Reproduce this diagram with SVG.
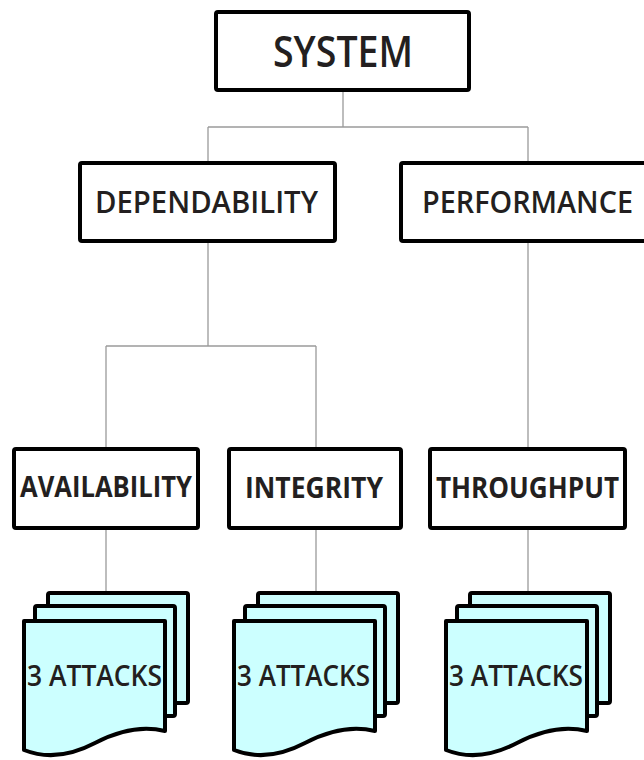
<svg xmlns="http://www.w3.org/2000/svg" width="644" height="760" viewBox="0 0 644 760">
  <style>
    .box { fill: #ffffff; stroke: #000000; stroke-width: 4; stroke-linejoin: round; }
    .sheet { fill: #ccffff; stroke: #000000; stroke-width: 4; stroke-linejoin: round; }
    .wire { fill: none; stroke: #9a9a9a; stroke-width: 1.3; }
    .lbl { font-family: "Open Sans", "DejaVu Sans", sans-serif; fill: #231f20; text-anchor: middle; }
    .top { font-size: 44px; font-weight: 600; }
    .mid { font-size: 31px; font-weight: 600; }
    .low { font-size: 28px; font-weight: 700; }
    .att { font-size: 29px; font-weight: 600; }
  </style>
  <defs>
    <!-- stack of three document sheets, centred on the incoming connector -->
    <g id="docstack">
      <rect class="sheet" x="-58" y="593" width="140" height="110" rx="2"/>
      <rect class="sheet" x="-71" y="606" width="140" height="110" rx="2"/>
      <path class="sheet" d="M-82,621 H59 V731 Q27,723 -11,743 Q-49,763 -82,750 Z"/>
    </g>
  </defs>

  <g id="connectors">
    <path class="wire" d="M343,92 V127 M208,127 H528 M208,127 V161 M528,127 V161"/>
    <path class="wire" d="M208,243 V346 M106,346 H316 M106,346 V447 M316,346 V447"/>
    <path class="wire" d="M528,243 V447"/>
    <path class="wire" d="M106,530 V591 M316,530 V591 M528,530 V591"/>
  </g>

  <g id="system">
    <rect class="box" x="216" y="12" width="253" height="78" rx="2"/>
    <text class="lbl top" x="343" y="67" textLength="140" lengthAdjust="spacingAndGlyphs">SYSTEM</text>
  </g>

  <g id="dependability">
    <rect class="box" x="80" y="163" width="255" height="78" rx="2"/>
    <text class="lbl mid" x="206.5" y="213" textLength="223" lengthAdjust="spacingAndGlyphs">DEPENDABILITY</text>
  </g>

  <g id="performance">
    <rect class="box" x="401" y="163" width="262" height="78" rx="2"/>
    <text class="lbl mid" x="527.5" y="213" textLength="211" lengthAdjust="spacingAndGlyphs">PERFORMANCE</text>
  </g>

  <g id="availability">
    <rect class="box" x="14" y="449" width="184" height="79" rx="2"/>
    <text class="lbl low" x="106" y="497" textLength="172" lengthAdjust="spacingAndGlyphs">AVAILABILITY</text>
  </g>

  <g id="integrity">
    <rect class="box" x="229" y="449" width="172" height="79" rx="2"/>
    <text class="lbl low" x="314" y="498" textLength="138" lengthAdjust="spacingAndGlyphs">INTEGRITY</text>
  </g>

  <g id="throughput">
    <rect class="box" x="430" y="449" width="195" height="79" rx="2"/>
    <text class="lbl low" x="527.5" y="498" textLength="183" lengthAdjust="spacingAndGlyphs">THROUGHPUT</text>
  </g>

  <g id="attacks-availability">
    <use href="#docstack" transform="translate(106,0)"/>
    <text class="lbl att" x="94.5" y="686" textLength="135" lengthAdjust="spacingAndGlyphs">3 ATTACKS</text>
  </g>

  <g id="attacks-integrity">
    <use href="#docstack" transform="translate(316,0)"/>
    <text class="lbl att" x="303.5" y="686" textLength="133" lengthAdjust="spacingAndGlyphs">3 ATTACKS</text>
  </g>

  <g id="attacks-throughput">
    <use href="#docstack" transform="translate(528,0)"/>
    <text class="lbl att" x="516" y="686" textLength="134" lengthAdjust="spacingAndGlyphs">3 ATTACKS</text>
  </g>
</svg>
